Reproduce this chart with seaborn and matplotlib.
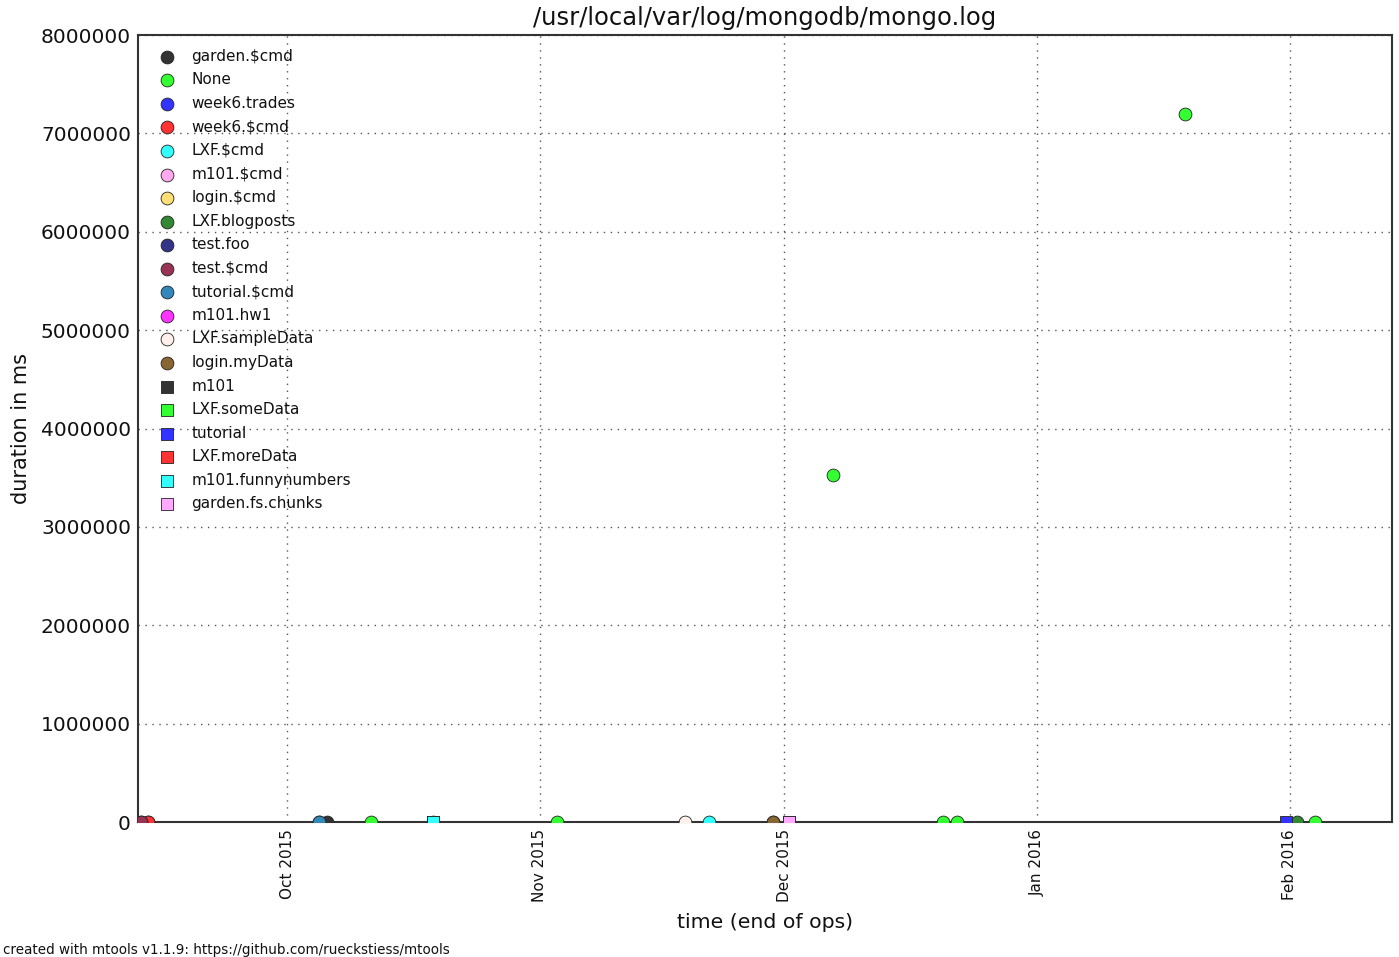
import pandas as pd
import matplotlib
matplotlib.use('Agg')
import matplotlib.pyplot as plt
import matplotlib.dates as mdates
import seaborn as sns

# namespaces in legend order
namespaces = ['garden.$cmd', 'None', 'week6.trades', 'week6.$cmd', 'LXF.$cmd',
              'm101.$cmd', 'login.$cmd', 'LXF.blogposts', 'test.foo', 'test.$cmd',
              'tutorial.$cmd', 'm101.hw1', 'LXF.sampleData', 'login.myData',
              'm101', 'LXF.someData', 'tutorial', 'LXF.moreData',
              'm101.funnynumbers', 'garden.fs.chunks']

# one row per logged op (end time, duration in ms)
point_ns = ['garden.$cmd',
            'None', 'None', 'None', 'None', 'None', 'None', 'None',
            'week6.trades', 'week6.$cmd', 'LXF.$cmd', 'm101.$cmd', 'login.$cmd',
            'LXF.blogposts', 'test.foo', 'test.$cmd', 'tutorial.$cmd', 'm101.hw1',
            'LXF.sampleData', 'login.myData', 'm101', 'LXF.someData', 'tutorial',
            'LXF.moreData', 'm101.funnynumbers', 'garden.fs.chunks']
point_time = ['2015-10-05 20:00',
              '2015-10-11 05:00', '2015-11-03 03:00', '2015-12-07 00:00',
              '2015-12-20 12:00', '2015-12-22 05:00', '2016-01-19 03:00',
              '2016-02-04 03:00',
              '2015-09-13 22:00', '2015-09-13 22:00', '2015-11-21 17:00',
              '2015-10-04 20:00', '2015-11-29 15:00',
              '2016-02-01 22:00', '2015-09-13 00:00', '2015-09-13 00:00',
              '2015-10-04 20:00', '2015-10-18 22:00',
              '2015-11-18 19:00', '2015-11-29 15:00', '2015-12-01 14:00',
              '2015-10-18 22:00', '2016-01-31 12:00',
              '2015-10-18 22:00', '2015-10-18 22:00', '2015-12-01 14:00']
point_duration = [1200,
                  900, 1500, 3527000, 2100, 1800, 7197000,
                  1300,
                  600, 800, 1100, 500, 700,
                  900, 400, 600, 1000, 500,
                  1400, 1200, 800, 700, 1600,
                  900, 1100, 1000]

palette = ['#333333', '#33ff33', '#3333ff', '#ff3333', '#33ffff', '#ffaaee',
           '#ffdd77', '#338833', '#333388', '#993355', '#3388bb', '#ff33ff',
           '#fff0ea', '#886633',
           '#333333', '#33ff33', '#3333ff', '#ff3333', '#33ffff', '#ffaaff']
shapes = ['o'] * 14 + ['s'] * 6

df = pd.DataFrame({'namespace': point_ns,
                   'time': pd.to_datetime(point_time),
                   'duration': point_duration})

sns.set_style('white')
plt.rcParams['font.family'] = ['DejaVu Sans']
plt.rcParams['text.color'] = '#111111'
plt.rcParams['axes.labelcolor'] = '#111111'
plt.rcParams['xtick.color'] = '#111111'
plt.rcParams['ytick.color'] = '#111111'

fig = plt.figure(figsize=(13.99, 9.57), dpi=100)
ax = fig.add_axes([0.0986, 0.141, 0.8965, 0.8224])

for ns, col, mk in zip(namespaces, palette, shapes):
    sub = df[df['namespace'] == ns]
    sns.scatterplot(data=sub, x='time', y='duration', ax=ax, color=col,
                    marker=mk, s=85, edgecolor='#222222', linewidth=0.6,
                    label=ns, zorder=3)

ax.set_ylim(0, 8000000)
ax.set_xlim(pd.Timestamp('2015-09-12 16:00'), pd.Timestamp('2016-02-13 14:00'))
ax.set_yticks(range(0, 8000001, 1000000))
ax.set_yticklabels([str(v) for v in range(0, 8000001, 1000000)], fontsize=14.5)
ax.xaxis.set_major_locator(mdates.MonthLocator())
ax.xaxis.set_major_formatter(mdates.DateFormatter('%b %Y'))
for lbl in ax.get_xticklabels():
    lbl.set_rotation(90)
    lbl.set_fontsize(11)

ax.grid(True, color='#555555', linestyle=(0, (1, 4)), linewidth=1.0)
for sp in ax.spines.values():
    sp.set_color('#333333')
    sp.set_linewidth(1.5)
ax.tick_params(axis='both', which='major', direction='in', length=5,
               width=1.0, color='#333333', pad=5)

ax.set_title('/usr/local/var/log/mongodb/mongo.log', fontsize=17.5, pad=7)
ax.set_xlabel('time (end of ops)', fontsize=14.7, labelpad=8)
ax.set_ylabel('duration in ms', fontsize=15, labelpad=7)

handles, labels = ax.get_legend_handles_labels()
ax.legend(handles, labels, loc='upper left', frameon=False, fontsize=11,
          labelspacing=0.56, handletextpad=0.6, borderaxespad=0.5,
          markerscale=1.0)

fig.text(0.002, 0.003, 'created with mtools v1.1.9: https://github.com/rueckstiess/mtools',
         fontsize=9.75)

plt.savefig('out.png', dpi=100)
